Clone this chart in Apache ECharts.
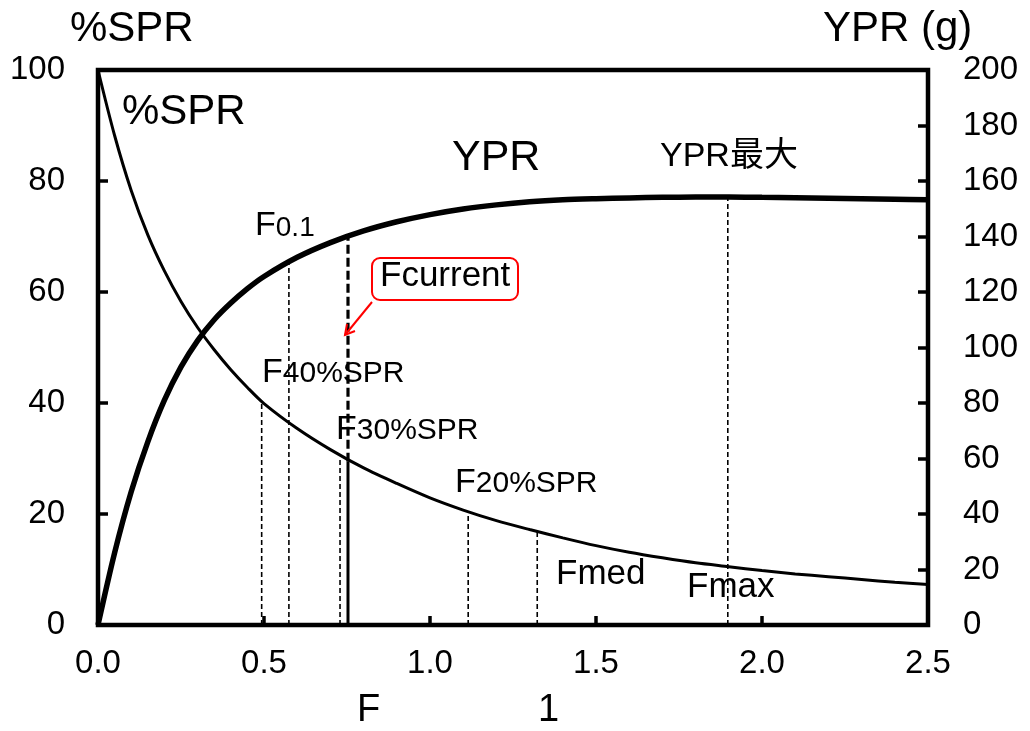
<!DOCTYPE html>
<html>
<head>
<meta charset="utf-8">
<style>
  html, body { margin: 0; padding: 0; background: #fff; }
  #chart { width: 1030px; height: 731px; }
</style>
<script src="https://cdn.jsdelivr.net/npm/echarts@6/dist/echarts.min.js"></script>
</head>
<body>
<div id="chart"></div>
<script>
// fishing mortality F (x axis)
const fValues = [0, 0.05, 0.1, 0.15, 0.2, 0.25, 0.3, 0.35, 0.4, 0.45, 0.5, 0.6, 0.7, 0.8, 0.9, 1.0,
  1.1, 1.2, 1.3, 1.4, 1.5, 1.6, 1.7, 1.8, 1.9, 2.0, 2.1, 2.2, 2.3, 2.4, 2.5];
// %SPR (left axis)
const sprValues = [100, 88.2, 78.3, 70.3, 63.8, 58.3, 53.6, 49.6, 46.0, 42.8, 39.9, 35.4, 31.6, 28.3, 25.5, 22.9,
  20.7, 18.8, 17.2, 15.7, 14.3, 13.1, 12.1, 11.2, 10.5, 9.8, 9.2, 8.7, 8.2, 7.7, 7.3];
// YPR in g (right axis)
const yprValues = [0, 26, 48, 66, 81, 93, 102.5, 110, 116, 121.2, 125.6, 132.5, 137.8, 142, 145.3, 147.9,
  149.9, 151.4, 152.5, 153.2, 153.6, 153.9, 154.1, 154.2, 154.2, 154.1, 154.0, 153.8, 153.6, 153.4, 153.2];

// reference F values: F40%SPR, F0.1, F30%SPR, F20%SPR, Fmed, Fmax
const refF = [0.493, 0.575, 0.729, 1.115, 1.323, 1.897];
const refTop = [40, 131.5, 30, 20.2, 16.8, 154.2];
const refAxis = [0, 1, 0, 0, 0, 1];

// Fcurrent
const fCurrent = 0.753;
const fCurrentSpr = 29.4;
const fCurrentYpr = 139.5;

const leftTicks = [0, 20, 40, 60, 80, 100];
const rightTicks = [0, 20, 40, 60, 80, 100, 120, 140, 160, 180, 200];
const xTicks = [0, 0.5, 1.0, 1.5, 2.0, 2.5];

const FONT = '"Liberation Sans", Arial, "Noto Sans CJK JP", sans-serif';

const chart = echarts.init(document.getElementById('chart'));

const refSeries = refF.map((f, i) => ({
  type: 'line',
  yAxisIndex: refAxis[i],
  data: [[f, 0], [f, refTop[i]]],
  showSymbol: false,
  silent: true,
  z: 1,
  lineStyle: { color: '#000', width: 1.6, type: [5, 3] }
}));

// text with baseline at y (zrender middle alignment approximated)
function txt(x, base, text, size) {
  return {
    type: 'text',
    x: x,
    y: base - 0.36 * size,
    style: { text: text, font: size + 'px ' + FONT, fill: '#000', textVerticalAlign: 'middle' },
    z: 100
  };
}
function subTxt(x, base, main, sub, size, subSize) {
  return [txt(x, base, main, size), txt(x + 0.611 * size, base, sub, subSize)];
}

const graphics = [
  txt(70, 45, '%SPR', 42),
  txt(823, 45, 'YPR (g)', 42),
  txt(357, 724, 'F', 38),
  txt(538, 724, '1', 38),
  txt(122, 128, '%SPR', 42),
  txt(452, 174, 'YPR', 43),
  txt(660, 169, 'YPR最大', 34),
  ...subTxt(255, 238, 'F', '0.1', 34, 28),
  ...subTxt(262, 385, 'F', '40%SPR', 34, 30),
  ...subTxt(336, 442, 'F', '30%SPR', 34, 30),
  ...subTxt(455, 495, 'F', '20%SPR', 34, 30),
  txt(556, 587, 'Fmed', 35),
  txt(687, 600, 'Fmax', 35),
  {
    type: 'rect',
    shape: { x: 372, y: 258, width: 146, height: 42, r: 8 },
    style: { stroke: '#ff0000', lineWidth: 2, fill: '#fff' },
    z: 99
  },
  txt(380, 289, 'Fcurrent', 35),
  {
    type: 'polyline',
    shape: { points: [[372, 302], [345, 335]] },
    style: { stroke: '#ff0000', lineWidth: 2, fill: null },
    z: 99
  },
  {
    type: 'polyline',
    shape: { points: [[355, 331], [345, 335], [347, 324]] },
    style: { stroke: '#ff0000', lineWidth: 2, fill: null },
    z: 99
  }
];

const option = {
  animation: false,
  backgroundColor: '#fff',
  textStyle: { fontFamily: FONT },
  grid: {
    left: 98,
    right: 102,
    top: 70,
    bottom: 106,
    show: true,
    borderColor: '#000',
    borderWidth: 4.5
  },
  xAxis: {
    type: 'value',
    min: 0,
    max: 2.5,
    interval: 0.5,
    axisLine: { show: false },
    axisTick: { show: true, inside: true, length: 9, lineStyle: { color: '#000', width: 3.5 } },
    splitLine: { show: false },
    axisLabel: {
      color: '#000',
      fontSize: 33,
      margin: 22,
      formatter: v => xTicks.includes(v) ? v.toFixed(1) : ''
    }
  },
  yAxis: [
    {
      type: 'value',
      min: 0,
      max: 100,
      interval: 20,
      axisLine: { show: false },
      axisTick: { show: true, inside: true, length: 10, lineStyle: { color: '#000', width: 3.5 } },
      splitLine: { show: false },
      axisLabel: {
        color: '#000',
        fontSize: 33,
        margin: 33,
        formatter: v => leftTicks.includes(v) ? String(v) : ''
      }
    },
    {
      type: 'value',
      min: 0,
      max: 200,
      interval: 20,
      position: 'right',
      axisLine: { show: false },
      axisTick: { show: true, inside: true, length: 10, lineStyle: { color: '#000', width: 3.5 } },
      splitLine: { show: false },
      axisLabel: {
        color: '#000',
        fontSize: 33,
        margin: 35,
        formatter: v => rightTicks.includes(v) ? String(v) : ''
      }
    }
  ],
  series: [
    ...refSeries,
    {
      type: 'line',
      yAxisIndex: 0,
      data: [[fCurrent, 0], [fCurrent, fCurrentSpr]],
      showSymbol: false,
      silent: true,
      z: 2,
      lineStyle: { color: '#000', width: 3 }
    },
    {
      type: 'line',
      yAxisIndex: 1,
      data: [[fCurrent, fCurrentSpr * 2], [fCurrent, fCurrentYpr]],
      showSymbol: false,
      silent: true,
      z: 2,
      lineStyle: { color: '#000', width: 3.2, type: [9, 4] }
    },
    {
      name: '%SPR',
      type: 'line',
      yAxisIndex: 0,
      smooth: 0.3,
      showSymbol: false,
      z: 5,
      data: fValues.map((f, i) => [f, sprValues[i]]),
      lineStyle: { color: '#000', width: 3 }
    },
    {
      name: 'YPR',
      type: 'line',
      yAxisIndex: 1,
      smooth: 0.3,
      showSymbol: false,
      z: 6,
      data: fValues.map((f, i) => [f, yprValues[i]]),
      lineStyle: { color: '#000', width: 5.5 }
    }
  ],
  graphic: graphics
};

chart.setOption(option);
</script>
</body>
</html>
